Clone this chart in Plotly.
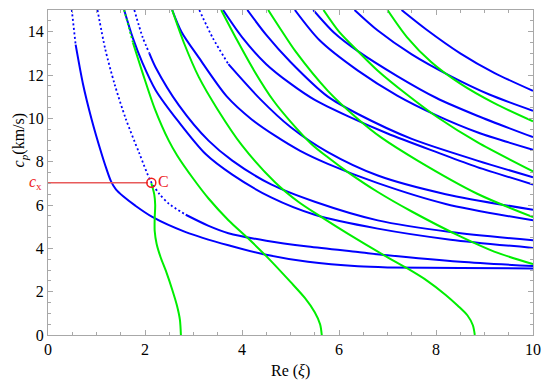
import plotly.graph_objects as go

# ---------------- data ----------------
# blue branches (Re(xi), c_p)
b1_x = [0.49, 0.57, 0.72, 0.90, 1.10, 1.20, 1.30, 1.40, 1.55, 1.80, 2.15, 2.84, 3.72, 4.50, 5.36, 6.39, 7.00, 8.50, 10.0]
b1_y = [15.0, 13.4, 11.6, 9.95, 8.40, 7.70, 7.09, 6.72, 6.40, 5.97, 5.45, 4.75, 4.14, 3.70, 3.38, 3.17, 3.12, 3.09, 3.07]
b2_x = [1.02, 1.18, 1.37, 1.60, 1.88, 2.12, 2.30, 2.49, 2.84, 3.30, 3.72, 4.50, 5.36, 6.39, 7.00, 8.50, 10.0]
b2_y = [15.0, 13.2, 11.6, 10.0, 8.40, 7.09, 6.50, 6.06, 5.55, 5.05, 4.70, 4.35, 4.08, 3.83, 3.68, 3.38, 3.18]
b3_x = [1.57, 1.75, 1.95, 2.22, 2.70, 3.25, 3.80, 4.60, 5.50, 6.80, 8.30, 10.0]
b3_y = [15.0, 13.7, 12.55, 11.3, 9.82, 8.35, 7.40, 6.35, 5.55, 4.91, 4.40, 4.02]
b4_x = [1.78, 1.95, 2.09, 2.22, 2.70, 3.31, 3.80, 4.60, 5.50, 6.80, 8.30, 10.0]
b4_y = [15.0, 13.75, 13.0, 12.35, 10.6, 8.97, 8.05, 6.95, 6.15, 5.29, 4.75, 4.37]
b5_x = [2.56, 2.75, 3.11, 3.69, 4.20, 4.68, 5.20, 5.77, 6.80, 8.20, 10.0]
b5_y = [15.0, 14.0, 12.8, 11.0, 9.95, 9.20, 8.50, 7.90, 7.01, 6.05, 5.29]
b6_x = [3.12, 3.40, 3.72, 4.37, 5.00, 5.77, 6.80, 8.20, 10.0]
b6_y = [15.0, 13.7, 12.5, 10.9, 9.60, 8.44, 7.36, 6.50, 5.78]
b7_x = [3.61, 4.00, 4.50, 5.00, 5.50, 6.18, 7.00, 8.00, 8.85, 10.0]
b7_y = [15.0, 13.75, 12.5, 11.6, 10.85, 10.1, 9.30, 8.45, 7.75, 6.95]
b8_x = [4.11, 4.50, 5.00, 5.77, 6.39, 7.50, 8.85, 10.0]
b8_y = [15.0, 13.85, 12.6, 11.0, 10.2, 9.05, 8.05, 7.28]
b9_x = [5.09, 5.60, 6.39, 7.20, 8.00, 8.85, 10.0]
b9_y = [15.0, 13.6, 12.2, 11.05, 10.15, 9.36, 8.55]
b10_x = [5.47, 5.90, 6.39, 7.20, 8.00, 8.85, 10.0]
b10_y = [15.0, 13.95, 13.1, 11.95, 10.95, 10.12, 9.13]
b11_x = [6.32, 6.80, 7.50, 8.30, 9.10, 10.0]
b11_y = [15.0, 14.05, 12.95, 11.95, 11.1, 10.35]
b12_x = [7.29, 7.80, 8.50, 9.20, 10.0]
b12_y = [15.0, 14.1, 13.0, 12.1, 11.27]

# green branches
g0_x = [2.13, 2.19, 2.21, 2.20, 2.20, 2.24, 2.32, 2.44, 2.56, 2.66, 2.72, 2.74]
g0_y = [7.00, 6.50, 6.00, 5.40, 4.80, 4.20, 3.60, 2.90, 2.10, 1.35, 0.70, 0.00]
g1_x = [1.57, 1.75, 1.95, 2.20, 2.49, 2.66, 3.00, 3.31, 3.72, 4.13, 4.54, 5.00, 5.30, 5.50, 5.61, 5.645]
g1_y = [15.0, 13.5, 12.1, 10.45, 8.97, 8.30, 7.20, 6.30, 5.30, 4.45, 3.55, 2.45, 1.70, 1.05, 0.50, 0.00]
g2_x = [2.56, 2.80, 3.11, 3.50, 4.00, 4.68, 5.16, 5.64, 6.18, 6.93, 7.41, 7.82, 8.20, 8.45, 8.65, 8.76, 8.80]
g2_y = [15.0, 13.5, 11.9, 10.4, 8.75, 7.05, 6.15, 5.44, 4.68, 3.68, 3.07, 2.50, 1.85, 1.35, 0.90, 0.45, 0.00]
g3_x = [3.57, 3.90, 4.25, 4.65, 5.00, 5.43, 5.77, 6.18, 6.80, 7.50, 8.50, 9.20, 10.0]
g3_y = [15.0, 13.6, 12.2, 10.81, 9.85, 8.82, 8.20, 7.52, 6.60, 5.70, 4.55, 3.85, 3.27]
g4_x = [4.54, 4.80, 5.10, 5.77, 6.39, 6.86, 7.62, 8.85, 10.0]
g4_y = [15.0, 14.1, 13.1, 11.27, 9.97, 9.13, 8.05, 6.52, 5.44]
g5_x = [5.68, 6.00, 6.39, 6.80, 7.40, 8.03, 8.85, 10.0]
g5_y = [15.0, 14.0, 13.1, 12.2, 11.1, 10.05, 8.90, 7.55]
g6_x = [7.00, 7.40, 7.90, 8.50, 9.20, 10.0]
g6_y = [15.0, 13.75, 12.6, 11.6, 10.7, 9.86]

# marked point C and the level c_x
point_c_x = 2.13
point_c_y = 7.03

x_ticks = [0, 2, 4, 6, 8, 10]
y_ticks = [0, 2, 4, 6, 8, 10, 12, 14]

# ---------------- styling ----------------
BLUE = "#0000ff"
GREEN = "#00ee00"
RED = "#ee1c1c"
FONT = "Liberation Serif, Times New Roman, serif"

# number of leading points drawn as a dotted segment (style only)
blue_sets = [
    (b1_x, b1_y, 2), (b2_x, b2_y, 9), (b3_x, b3_y, 0), (b4_x, b4_y, 3),
    (b5_x, b5_y, 0), (b6_x, b6_y, 3), (b7_x, b7_y, 0), (b8_x, b8_y, 0),
    (b9_x, b9_y, 0), (b10_x, b10_y, 0), (b11_x, b11_y, 0), (b12_x, b12_y, 0),
]
green_sets = [
    (g0_x, g0_y, 0), (g1_x, g1_y, 2), (g2_x, g2_y, 0), (g3_x, g3_y, 0),
    (g4_x, g4_y, 0), (g5_x, g5_y, 0), (g6_x, g6_y, 0),
]

fig = go.Figure()


def add_branch(xs, ys, ndot, color):
    if ndot > 1:
        fig.add_trace(go.Scatter(
            x=xs[:ndot], y=ys[:ndot], mode="lines",
            line=dict(color=color, width=1.8, dash="2px,2.5px", shape="spline", smoothing=0.8),
            hoverinfo="skip", showlegend=False))
        xs2, ys2 = xs[ndot - 1:], ys[ndot - 1:]
    else:
        xs2, ys2 = xs, ys
    fig.add_trace(go.Scatter(
        x=xs2, y=ys2, mode="lines",
        line=dict(color=color, width=2, shape="spline", smoothing=0.8),
        hoverinfo="skip", showlegend=False))


for xs, ys, nd in blue_sets:
    add_branch(xs, ys, nd, BLUE)
for xs, ys, nd in green_sets:
    add_branch(xs, ys, nd, GREEN)

# red level line up to C
fig.add_trace(go.Scatter(
    x=[0, point_c_x - 0.07], y=[point_c_y, point_c_y], mode="lines",
    line=dict(color="rgb(232,90,90)", width=1.5), hoverinfo="skip", showlegend=False))
fig.add_trace(go.Scatter(
    x=[point_c_x], y=[point_c_y], mode="markers",
    marker=dict(symbol="circle-open", size=9, color=RED, line=dict(width=1.5, color=RED)),
    hoverinfo="skip", showlegend=False))

fig.add_annotation(x=point_c_x + 0.09, y=point_c_y + 0.05, xref="x", yref="y",
                   text="C", showarrow=False, xanchor="left", yanchor="middle",
                   font=dict(family=FONT, size=16, color=RED))
fig.add_annotation(x=-0.008, y=point_c_y, xref="paper", yref="y",
                   text="<i>c</i><sub>x</sub>", showarrow=False, xanchor="right", yanchor="middle",
                   font=dict(family=FONT, size=16, color=RED))
fig.add_annotation(x=-0.059, y=0.60, xref="paper", yref="paper",
                   text="<i>c<sub>p</sub></i>(km/s)", showarrow=False, textangle=-90,
                   xanchor="center", yanchor="middle",
                   font=dict(family=FONT, size=16, color="black"))
fig.add_annotation(x=0.5, y=-0.11, xref="paper", yref="paper",
                   text="Re (<i>ξ</i>)", showarrow=False, xanchor="center", yanchor="middle",
                   font=dict(family=FONT, size=16, color="black"))

axis_common = dict(
    showgrid=False, zeroline=False, showline=True, linecolor="#a8a8a8", linewidth=1,
    mirror="allticks", ticks="inside", ticklen=5, tickcolor="#a8a8a8", tickwidth=1,
    tickfont=dict(family=FONT, size=16, color="black"),
)
fig.update_xaxes(range=[0, 10], tickvals=x_ticks, ticktext=[str(v) for v in x_ticks],
                 minor=dict(dtick=0.5, ticks="inside", ticklen=3, tickcolor="#a8a8a8", showgrid=False),
                 **axis_common)
fig.update_yaxes(range=[0, 15], tickvals=y_ticks, ticktext=[str(v) for v in y_ticks],
                 minor=dict(dtick=0.5, ticks="inside", ticklen=3, tickcolor="#a8a8a8", showgrid=False),
                 **axis_common)

fig.update_layout(
    width=550, height=388,
    margin=dict(l=48, r=14, t=9, b=53),
    paper_bgcolor="white", plot_bgcolor="white",
    font=dict(family=FONT, size=16, color="black"),
    showlegend=False,
)

fig.write_html("out.html", config={"displayModeBar": False, "staticPlot": True})

# remove the default page margin so the figure sits at the window origin
with open("out.html", "r", encoding="utf-8") as f:
    html = f.read()
html = html.replace("<body>", '<body style="margin:0;padding:0;overflow:hidden">', 1)
with open("out.html", "w", encoding="utf-8") as f:
    f.write(html)
